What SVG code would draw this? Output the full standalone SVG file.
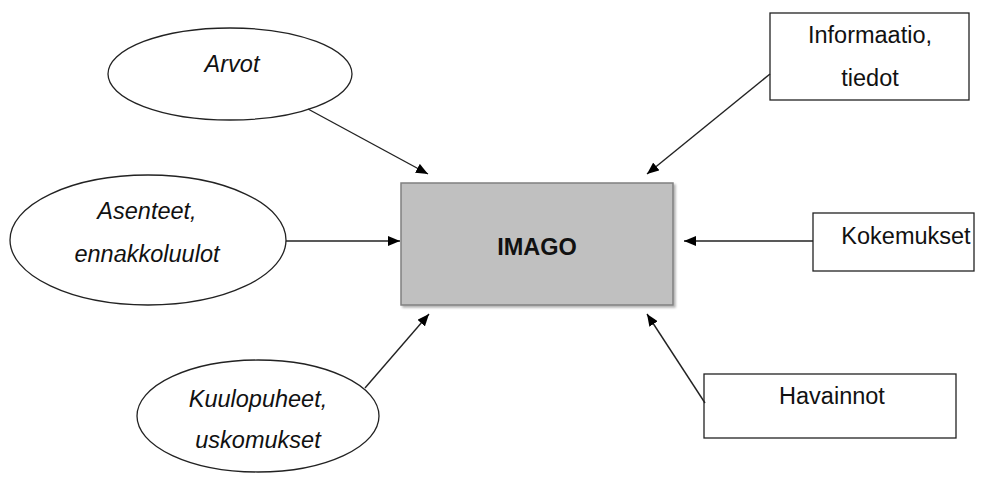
<svg xmlns="http://www.w3.org/2000/svg" width="988" height="477" viewBox="0 0 988 477">
<style>
.bg{fill:#ffffff}
.ell{fill:#ffffff;stroke:#222222;stroke-width:1.3}
.box{fill:#ffffff;stroke:#222222;stroke-width:1.3}
.t{font-family:"Liberation Sans",Arial,sans-serif;font-size:23.5px;fill:#111111;text-anchor:middle}
.it{font-style:italic}
.bold{font-weight:bold}
.conn line{stroke:#222222;stroke-width:1.4;marker-end:url(#ah)}
</style>
<defs>
<marker id="ah" viewBox="0 0 12 10" refX="12" refY="5" markerWidth="12" markerHeight="10" markerUnits="userSpaceOnUse" orient="auto">
<path d="M0,0 L12,5 L0,10 Z" fill="#000000"/>
</marker>
<filter id="sh" x="-5%" y="-5%" width="112%" height="115%">
<feDropShadow dx="2" dy="2" stdDeviation="1.2" flood-color="#000000" flood-opacity="0.3"/>
</filter>
</defs>
<rect class="bg" x="0" y="0" width="988" height="477"/>
<g id="arvot">
<ellipse class="ell" cx="230" cy="74" rx="122" ry="46"/>
<text class="t it" x="232" y="72">Arvot</text>
</g>
<g id="asenteet">
<ellipse class="ell" cx="148" cy="240" rx="138" ry="65"/>
<text class="t it" x="147" y="219">Asenteet,</text>
<text class="t it" x="147" y="262">ennakkoluulot</text>
</g>
<g id="kuulopuheet">
<ellipse class="ell" cx="258" cy="416" rx="121" ry="56"/>
<text class="t it" x="258" y="407">Kuulopuheet,</text>
<text class="t it" x="258" y="448">uskomukset</text>
</g>
<g id="imago">
<rect x="401" y="183" width="272" height="122" fill="#c0c0c0" stroke="#808080" stroke-width="1.5" filter="url(#sh)"/>
<text class="t bold" x="537" y="255">IMAGO</text>
</g>
<g id="informaatio">
<rect class="box" x="770" y="13" width="199" height="87"/>
<text class="t" x="870" y="43">Informaatio,</text>
<text class="t" x="870" y="86">tiedot</text>
</g>
<g id="kokemukset">
<rect class="box" x="813" y="213" width="161" height="58"/>
<text class="t" x="906" y="244">Kokemukset</text>
</g>
<g id="havainnot">
<rect class="box" x="704" y="374" width="252" height="64"/>
<text class="t" x="832" y="404">Havainnot</text>
</g>
<g id="connectors" class="conn">
<line x1="308" y1="109" x2="428" y2="174"/>
<line x1="286" y1="241" x2="400" y2="241"/>
<line x1="365" y1="388" x2="429" y2="314"/>
<line x1="770" y1="74" x2="647" y2="174"/>
<line x1="813" y1="241" x2="684" y2="241"/>
<line x1="705" y1="403" x2="647" y2="314"/>
</g>
</svg>
